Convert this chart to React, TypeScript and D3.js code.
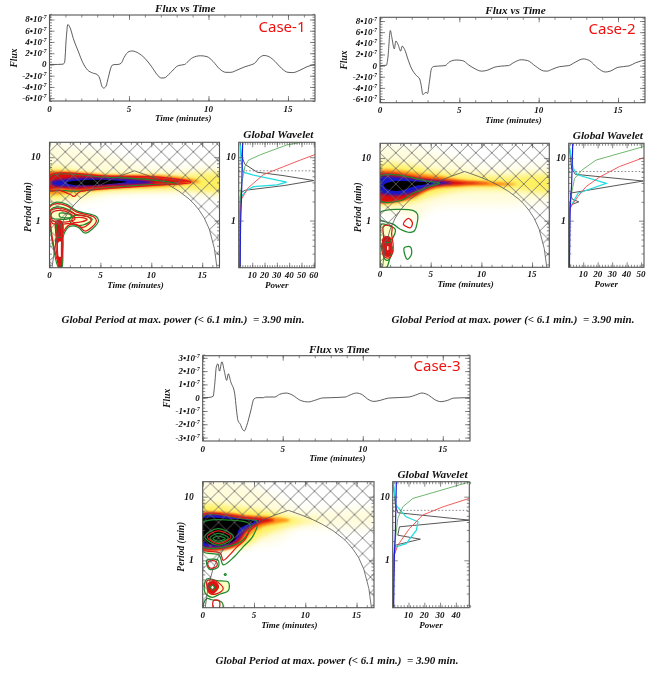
import { useEffect, useRef } from "react";
import * as d3 from "d3";

type Pt = [number, number];
type Sel = d3.Selection<any, any, any, any>;

const TIME_MAX = 16.7;
const PERIOD_DOMAIN: Pt = [0.18, 17.2];
const GLOBAL_PERIOD = 6.1;

// flux light curves, time in minutes, flux in units of 1e-7
const flux1: Pt[] = [[0,0],[.5,0],[.85,.05],[.95,.4],[1.05,4.5],[1.15,7.1],[1.3,6.5],[1.5,4.6],[1.8,2.4],[2.1,.3],[2.4,-1],[2.7,-1.5],[3,-1.8],[3.15,-2.4],[3.3,-3.9],[3.4,-4.2],[3.55,-3.9],[3.7,-2.3],[3.9,-.3],[4,-.05],[4.3,0],[4.5,.2],[4.7,1.3],[5,2.3],[5.2,2.4],[5.6,2],[6,1.1],[6.4,-.3],[6.8,-1.9],[7,-2.4],[7.2,-2.4],[7.6,-1.5],[8.1,-.2],[8.5,0],[8.7,.5],[9,1.2],[9.5,1.55],[9.9,1.4],[10.3,.5],[10.7,-.8],[11.1,-1.4],[11.4,-1.4],[11.8,-1],[12.3,-.4],[12.7,-.05],[12.9,.2],[13.2,1.2],[13.5,1.6],[13.8,1.4],[14.2,.5],[14.6,-.7],[15,-1.4],[15.3,-1.45],[15.7,-1.1],[16.2,-.4],[16.7,0]];
const flux2: Pt[] = [[0,0],[.4,.05],[.5,1.5],[.65,6.3],[.75,5],[.9,3],[1,4.4],[1.15,3.7],[1.3,2.6],[1.4,3.5],[1.55,2.9],[1.8,.8],[2,-.6],[2.3,-1.8],[2.5,-2.4],[2.6,-3.6],[2.7,-5.2],[2.8,-5],[2.9,-4.8],[3,-5],[3.1,-3.2],[3.25,-.5],[3.4,-.15],[3.9,-.05],[4.1,0],[4.4,.7],[4.8,1],[5.2,.9],[5.6,.1],[6,-.6],[6.4,-1],[6.8,-.8],[7.2,-.3],[7.6,-.1],[8.1,0],[8.4,.5],[8.9,1.05],[9.3,.9],[9.8,-.1],[10.3,-.95],[10.5,-1],[10.9,-.6],[11.3,-.2],[11.9,0],[12.3,.6],[12.8,1.2],[13.2,.9],[13.7,-.4],[14.2,-1.15],[14.5,-1],[15,-.3],[15.7,-.05],[16.1,.5],[16.7,1]];
const flux3: Pt[] = [[0,0],[.4,.02],[.65,.1],[.75,1],[.85,2.3],[.95,2.55],[1.05,2],[1.2,2.7],[1.35,2],[1.5,1.3],[1.6,1.8],[1.75,1.2],[2,.3],[2.1,-.8],[2.2,-1.7],[2.35,-2],[2.5,-2.4],[2.6,-2.5],[2.75,-2.1],[3,-1],[3.2,-.1],[3.4,0],[3.8,0],[3.9,.05],[4.5,.05],[4.8,.25],[5.2,.35],[5.6,.2],[6.1,-.2],[6.6,-.32],[7,-.2],[7.5,-.02],[8,0],[8.9,.05],[9.2,.2],[9.6,.35],[10,.2],[10.3,-.1],[10.7,-.28],[11.1,-.2],[11.6,-.03],[12.9,.05],[13.3,.2],[13.7,.35],[14.1,.2],[14.5,-.15],[14.9,-.3],[15.3,-.2],[15.7,-.03],[16.7,0]];

// cone of influence, time / period
const coi: Pt[] = [[.25,.18],[.5,.36],[1,.73],[1.5,1.1],[2,1.46],[2.5,1.83],[3,2.2],[4,2.92],[5,3.65],[6,4.38],[7,5.1],[8.35,6.1],[9.7,5.1],[10.7,4.38],[11.7,3.65],[12.7,2.92],[13.7,2.2],[14.2,1.83],[14.7,1.46],[15.2,1.1],[15.7,.73],[16.2,.36],[16.45,.18]];

const pale1: Pt[] = [[-.5,15.6],[3,13.9],[6,10.9],[9,7.6],[12,6.7],[17.2,6.3],[17.2,2.71],[12,2.87],[7,2.71],[4,2.12],[2,1.88],[-.5,2.12]];
const yellow1: Pt[] = [[-.5,6.4],[4,5.6],[9,5.3],[13,5.2],[17.2,5.2],[17.2,2.95],[13,3.05],[9,3],[5,2.85],[2.5,2.4],[-.5,2.3]];
const orange1: Pt[] = [[-.5,5.4],[6,5.3],[12,5.05],[14.8,4.13],[12,3.5],[7,3.2],[3,2.85],[-.5,2.75]];
const red1: Pt[] = [[-.5,5.1],[6,5.05],[11,4.8],[14,4.1],[11,3.7],[7,3.4],[2.5,3.05],[1,3.2],[-.5,3.05]];
const blue1: Pt[] = [[.1,4],[2,4.6],[5,4.7],[8,4.5],[10.3,4],[8,3.75],[5,3.6],[2,3.4],[.4,3.6]];
const black1: Pt[] = [[1.7,4],[3,4.3],[5.5,4.38],[7.6,4.08],[5.5,3.72],[3,3.6],[2,3.75]];

const pale2: Pt[] = [[-.5,14.2],[5,12.5],[10,7.3],[17.2,6.5],[17.2,2.45],[13.4,1.8],[7.5,1.8],[5,1.6],[3.6,1],[2.3,1.26],[-.5,1.8]];
const yellow2: Pt[] = [[-.5,7.5],[3.3,7.5],[5.5,6.2],[11.5,5.1],[17.2,4.9],[17.2,2.95],[12.8,3.12],[8.2,3.12],[5,2.45],[3,1.93],[-.5,1.93]];
const orange2: Pt[] = [[-.5,5.9],[5,5.4],[8.2,4.5],[12,4.1],[13.4,3.83],[12,3.6],[8.2,3.52],[5,3.12],[3,2.18],[-.5,2.05]];
const red2: Pt[] = [[-.5,5.4],[5,4.77],[8.2,4.23],[10.8,3.98],[8.2,3.75],[5.3,3.4],[3.3,2.45],[2.1,2.1],[-.5,2.1]];
const blue2: Pt[] = [[-.5,4.77],[5,4.33],[7.2,3.98],[5,3.6],[3,2.77],[1.3,2.54],[-.5,3.12]];
const black2: Pt[] = [[.4,3.75],[1.3,4.23],[3.3,4.23],[5.1,3.98],[3.3,3.52],[2.1,3.03],[1.3,3],[.6,3.26]];

const pale3: Pt[] = [[-.5,15.3],[4.6,15.3],[9.3,6.55],[17.2,5.8],[17.2,3.79],[13,3.16],[9.6,3.36],[7.2,1.95],[4.6,1.73],[2.7,1.44],[-.5,1.53]];
const yellow3: Pt[] = [[-.5,7],[3.3,6.8],[5.9,6],[9.5,4.55],[11.8,4.28],[9.5,3.79],[7.2,2.98],[5.6,2.34],[4.3,1.73],[-.5,1.73]];
const orange3: Pt[] = [[-.5,5.2],[4.6,5.1],[8.5,4.28],[5.9,3.36],[4.6,2.48],[3.6,1.73],[-.5,1.56]];
const red3: Pt[] = [[-.5,5],[4.6,4.83],[7,4.28],[5.3,3.57],[4.3,2.8],[3.2,1.66],[-.5,1.6]];
const blue3: Pt[] = [[-.5,4.83],[4,4.55],[5.6,4.13],[4.3,3.16],[3.3,2.07],[2,1.66],[-.5,1.83]];
const black3: Pt[] = [[-.5,4.3],[3,4.45],[5,4.03],[3.6,3.16],[3.1,2.07],[1.9,1.73],[.4,1.83],[-.5,2.5]];

// small-period power blobs under the contour lines
const lobePale1: Pt[] = [[0,1.6],[.7,1.85],[1.7,1.7],[2.7,1.36],[4.4,1.13],[4.6,.97],[3.5,.68],[2.85,.84],[2,.86],[1.3,.62],[1.1,.2],[.95,.2],[.45,.38],[.1,.87]];
const lobeRed1: Pt[] = [[.6,.9],[1.05,1],[1.35,.85],[1.25,.4],[1.2,.18],[.9,.18],[.7,.4]];
const lobeWhite1: Pt[] = [[.9,.46],[1.15,.46],[1.15,.27],[.9,.27]];
const lobePale2: Pt[] = [[.15,.88],[1,.82],[1.5,.73],[1.3,.54],[1,.48],[1.3,.33],[1,.26],[.65,.18],[.15,.18],[0,.48]];
const lobeRed2: Pt[] = [[.35,.55],[1,.55],[1.2,.37],[1,.27],[.5,.27],[.2,.37]];
const lobeWhite2: Pt[] = [[.72,.39],[.88,.39],[.88,.34],[.72,.34]];
const lobePale3: Pt[] = [[.4,.51],[1.4,.48],[2.5,.455],[2.5,.335],[1.7,.296],[.9,.262],[.2,.315]];
const lobeRed3: Pt[] = [[.5,.44],[1.3,.46],[1.6,.38],[1,.3],[.55,.32]];
const lobeWhite3: Pt[] = [[.85,.39],[1.05,.39],[1.05,.36],[.85,.36]];

// contour lines, significance levels
const greenRings1: Pt[][] = [
  [[0,5],[6,4.8],[10,4.4],[12.6,3.8],[10,3.7],[6,3.3],[2.5,2.9],[1,3],[0,3]],
  [[0,1.66],[.7,1.95],[1.7,1.8],[2.7,1.42],[4.6,1.16],[4.8,.97],[3.5,.63],[2.85,.78],[2,.81],[1.4,.6],[1.2,.18],[.9,.18],[.4,.36],[.05,.87]],
  [[1,1.3],[2,1.25],[2.2,1.15],[1.5,1.1],[1,1.15]],
  [[2,1.1],[3,1.22],[4.2,1.05],[3.3,.85],[2.2,.88]],
  [[.7,.85],[1,.9],[1.2,.8],[1.1,.55],[.85,.55]],
  [[.15,1.5],[.9,1.65],[1.8,1.5],[2.5,1.2],[1.7,1.05],[1,1.05],[.2,1.1]],
];
const redRings1: Pt[][] = [
  [[0,5.1],[6,5],[11,4.8],[13.9,4],[11,3.65],[7,3.3],[3,2.85],[2.4,2.4],[2.1,2.55],[1,3],[0,3]],
  [[0,1.6],[.7,1.85],[1.7,1.7],[2.7,1.36],[4.4,1.13],[4.6,.97],[3.5,.68],[2.85,.84],[2,.86],[1.3,.62],[1.1,.2],[.95,.2],[.45,.38],[.1,.87]],
  [[.2,1.3],[1,1.45],[2,1.3],[2.5,1.05],[1.7,.95],[1,.95],[.3,1]],
  [[2.2,1.05],[3,1.12],[3.7,1.05],[3.1,.95],[2.3,.95]],
  [[.6,.95],[1,1],[1.3,.9],[1.2,.5],[1.15,.25],[.9,.25],[.75,.5]],
  [[.7,.55],[1.2,.55],[1.2,.25],[1,.2],[.8,.25]],
  [[.05,1.4],[.9,1.55],[1.9,1.42],[2.6,1.25],[3.9,1.12],[4.1,1],[3.3,.78],[2.3,.9],[1.4,.88],[.9,.9],[.3,.9]],
];
const greenRings2: Pt[][] = [
  [[0,5.1],[5,4.2],[5.9,3.98],[5,3.55],[3.3,2.77],[2.1,2.1],[0,2.1]],
  [[0,1.35],[3.3,1.45],[3.7,1.26],[3.4,.69],[3,.65],[2,.73],[1.3,.88],[0,1.05]],
  [[.15,.88],[1,.82],[1.5,.73],[1.3,.54],[1,.48],[1.3,.33],[1,.26],[.65,.18],[.15,.18],[0,.48]],
  [[.45,.44],[.95,.44],[1.1,.36],[.9,.24],[.5,.24],[.3,.36]],
  [[2.4,.37],[3,.38],[3.1,.29],[2.7,.24],[2.5,.27]],
];
const redRings2: Pt[][] = [
  [[2.3,.88],[2.8,1.09],[3.2,.92],[3,.77],[2.5,.82]],
  [[.35,.82],[1.15,.82],[1.15,.61],[1.3,.37],[1,.26],[.5,.26],[.15,.37],[.35,.54]],
  [[.5,.48],[.9,.48],[1.05,.37],[.9,.28],[.55,.28],[.4,.37]],
  [[.6,.42],[.8,.42],[.9,.36],[.75,.3],[.6,.32]],
];
const greenRings3: Pt[][] = [
  [[.2,2.34],[1.5,3.16],[3,2.34],[1.5,1.73]],
  [[.7,2.25],[1.5,2.64],[2.5,2.25],[1.5,1.9]],
  [[1,2.2],[1.5,2.39],[2.2,2.2],[1.5,2]],
  [[0,3.9],[2.6,4.28],[4.6,3.65],[3.9,2.07],[2.5,1.66],[0,1.65]],
  [[0,4.9],[4,4.5],[5.3,4.1],[4.9,2.4],[3.9,1.6],[3.1,1.15],[2,.85],[1.6,1.2],[0,1.4]],
  [[.4,1],[1.5,1],[1.5,.78],[.7,.72],[.4,.86]],
  [[.4,.51],[1.4,.48],[2.5,.455],[2.5,.335],[1.7,.296],[.9,.262],[.2,.315]],
  [[.75,.375],[.95,.41],[1.15,.375],[.95,.34]],
  [[2.1,.6],[2.2,.62],[2.3,.6],[2.2,.58]],
  [[.9,.24],[1.85,.22],[1.95,.18],[.05,.18],[.4,.25]],
];
const redRings3: Pt[][] = [
  [[.45,2.34],[1.5,2.9],[2.75,2.34],[1.5,1.83]],
  [[0,5],[4,4.6],[5.6,4.2],[4.6,2.9],[4.1,2.1],[3.3,1.6],[2.7,1.25],[2,1],[1.7,1.3],[0,1.5]],
  [[.55,.96],[1.3,.96],[1.4,.82],[.8,.75],[.5,.85]],
  [[.45,.48],[1.2,.48],[2,.36],[1.4,.3],[.7,.3],[.4,.4]],
  [[.5,.38],[.95,.47],[1.5,.38],[.95,.3]],
  [[.65,.375],[.95,.44],[1.3,.375],[.95,.32]],
  [[1.05,.232],[1.6,.232],[1.6,.18],[1.05,.18]],
];

// global wavelet curves, period / power
const globalBlack1: Pt[] = [[.18,.1],[2.39,.3],[2.77,1],[3,4],[3.57,36],[4.28,60],[5.13,35],[5.8,14],[7.75,4],[11,1],[17,.3]];
const globalCyan1: Pt[] = [[.18,.1],[1.77,.3],[2.4,1.4],[2.95,5],[3.43,11],[3.65,30],[4.05,38],[5.2,11],[5.8,2.7],[9,.8],[17,.2]];
const globalGreen1: Pt[] = [[.18,0],[1.77,.1],[2.9,.6],[4.6,2.2],[7.1,4],[9,7],[10.9,16.4],[15.6,38],[17.2,50]];
const globalRed1: Pt[] = [[.18,0],[1.39,.1],[2.2,1.4],[3.3,6.8],[5.3,19],[7.1,35.5],[9,49],[11,61]];
const globalBlue1: Pt[] = [[.18,.1],[.85,.5],[2.9,1.4],[17,2.2]];

const globalBlack2: Pt[] = [[.18,.2],[.85,.5],[1.5,.5],[1.8,1.8],[2,7],[2.2,2.5],[2.75,1],[4.3,51.5],[5.5,4.5],[6.9,2],[16,.3]];
const globalCyan2: Pt[] = [[.18,.1],[1.4,.3],[1.8,2],[2.75,6.5],[3.95,26],[5.4,6],[6.9,3],[17,.2]];
const globalGreen2: Pt[] = [[.18,0],[1.8,.5],[4.7,4],[6.4,9],[9.3,19],[15.3,52]];
const globalRed2: Pt[] = [[.55,0],[1.6,1],[2.45,6.5],[3.5,12],[5,21.5],[7.3,35],[10.2,52]];
const globalBlue2: Pt[] = [[.18,.5],[1.6,1],[3.75,2],[17,2.8]];

const globalBlack3: Pt[] = [[.18,.1],[1.06,.4],[1.73,1.7],[2.15,17.5],[2.48,3.2],[3.36,4.3],[4.28,48.5],[5.6,3.2],[7.4,1.7],[16,.4]];
const globalCyan3: Pt[] = [[.18,.1],[1.13,.6],[1.62,2],[1.83,8.5],[2.98,15],[4.03,16],[4.83,8.5],[7.4,2],[17,.4]];
const globalGreen3: Pt[] = [[.18,0],[1.53,1],[4.55,3.2],[6.95,6.4],[9.4,12.8],[17,48.5]];
const globalRed3: Pt[] = [[.2,0],[1.2,1],[1.72,3.2],[3.15,10.6],[5.14,19],[6.95,32],[9.4,48.5]];
const globalBlue3: Pt[] = [[.18,.6],[1.06,1],[2.88,1.7],[17,2.3]];

const fluxTicks1 = [-6, -4, -2, 0, 2, 4, 6, 8];
const fluxTicks3 = [-3, -2, -1, 0, 1, 2, 3];
const timeTicks = [0, 5, 10, 15];
const powerTicks1 = [10, 20, 30, 40, 50, 60];
const powerTicks2 = [10, 20, 30, 40, 50];
const powerTicks3 = [10, 20, 30, 40];
const caseNames = ["Case-1", "Case-2", "Case-3"];

const FRAME = "#555";
const SERIF = "'Liberation Serif', serif";
const heatColors = ["#fffcdc", "#fff05e", "#ff9418", "#dc1010", "#1616c8", "#000000"];
const heatBlur = [5, 3, 1.2, 0.8, 0.8, 0.6];

const cases = [
  {
    name: caseNames[0], flux: flux1, fluxDomain: [-6.5, 8.8], fluxTicks: fluxTicks1, fluxMinor: 0.5,
    fluxBox: { x0: 49.5, x1: 315, y0: 15, y1: 101 },
    waveBox: { x0: 49.5, x1: 219.5, y0: 142.3, y1: 267.7 },
    globalBox: { x0: 238.7, x1: 315, y0: 142.3, y1: 267.7 },
    layers: [pale1, yellow1, orange1, red1, blue1, black1],
    lobes: [lobePale1, lobeRed1, lobeWhite1],
    green: greenRings1, red: redRings1,
    curves: [globalBlack1, globalCyan1, globalGreen1, globalRed1, globalBlue1],
    powerDomain: [-1, 61], powerTicks: powerTicks1,
    labelX: 282, labelY: 32, footX: 183, footY: 323,
  },
  {
    name: caseNames[1], flux: flux2, fluxDomain: [-6.66, 8.67], fluxTicks: fluxTicks1, fluxMinor: 0.5,
    fluxBox: { x0: 380, x1: 645, y0: 17.3, y1: 102.7 },
    waveBox: { x0: 380, x1: 549.3, y0: 143.3, y1: 267.3 },
    globalBox: { x0: 568.7, x1: 644, y0: 143.3, y1: 267.3 },
    layers: [pale2, yellow2, orange2, red2, blue2, black2],
    lobes: [lobePale2, lobeRed2, lobeWhite2],
    green: greenRings2, red: redRings2,
    curves: [globalBlack2, globalCyan2, globalGreen2, globalRed2, globalBlue2],
    powerDomain: [0, 52], powerTicks: powerTicks2,
    labelX: 612, labelY: 34, footX: 513, footY: 323,
  },
  {
    name: caseNames[2], flux: flux3, fluxDomain: [-3.26, 3.16], fluxTicks: fluxTicks3, fluxMinor: 0.25,
    fluxBox: { x0: 202.7, x1: 470, y0: 355.7, y1: 441 },
    waveBox: { x0: 202.7, x1: 374, y0: 481.7, y1: 607.7 },
    globalBox: { x0: 392.7, x1: 469.3, y0: 481.7, y1: 607.7 },
    layers: [pale3, yellow3, orange3, red3, blue3, black3],
    lobes: [lobePale3, lobeRed3, lobeWhite3],
    green: greenRings3, red: redRings3,
    curves: [globalBlack3, globalCyan3, globalGreen3, globalRed3, globalBlue3],
    powerDomain: [0, 48.5], powerTicks: powerTicks3,
    labelX: 437, labelY: 371, footX: 337, footY: 664,
  },
];

const curveColors = ["#444", "#22dde0", "#5fae5f", "#f04a4a", "#1a1ae0"];
const lobeColors = ["#ffffc4", "#d81010", "#ffffff"];

function label(g: Sel, x: number, y: number, text: string, size: number, anchor = "middle") {
  return g
    .append("text")
    .attr("x", x)
    .attr("y", y)
    .attr("text-anchor", anchor)
    .attr("font-family", SERIF)
    .attr("font-weight", "bold")
    .attr("font-style", "italic")
    .attr("font-size", size)
    .attr("fill", "#111")
    .style("white-space", "pre")
    .text(text);
}

// frame with inward ticks on all four sides, labels on bottom and left
function frame(
  g: Sel,
  box: { x0: number; x1: number; y0: number; y1: number },
  xScale: any,
  yScale: any,
  xMajor: number[],
  xMinor: number[],
  yMajor: number[],
  yMinor: number[]
) {
  const axes = g.append("g");
  const tick = (gen: any, major: number[], minor: number[], at: string, sign: number) => {
    axes.append("g").attr("transform", at).call(gen.tickValues(major).tickSize(sign * 5).tickFormat(() => ""));
    axes.append("g").attr("transform", at).call(gen.tickValues(minor).tickSize(sign * 2.5).tickFormat(() => ""));
  };
  tick(d3.axisBottom(xScale), xMajor, xMinor, `translate(0,${box.y1})`, -1);
  tick(d3.axisTop(xScale), xMajor, xMinor, `translate(0,${box.y0})`, -1);
  tick(d3.axisLeft(yScale), yMajor, yMinor, `translate(${box.x0},0)`, -1);
  tick(d3.axisRight(yScale), yMajor, yMinor, `translate(${box.x1},0)`, -1);
  axes.selectAll(".domain").remove();
  axes.selectAll("line").attr("stroke", FRAME).attr("stroke-width", 0.7);
  g.append("rect")
    .attr("x", box.x0)
    .attr("y", box.y0)
    .attr("width", box.x1 - box.x0)
    .attr("height", box.y1 - box.y0)
    .attr("fill", "none")
    .attr("stroke", FRAME)
    .attr("stroke-width", 1.1);
}

const range = (a: number, b: number, step: number) => d3.range(a, b + step / 2, step);
const periodMajor = [1, 10];
const periodMinor = [0.2, 0.3, 0.4, 0.5, 0.6, 0.7, 0.8, 0.9, 2, 3, 4, 5, 6, 7, 8, 9];

function drawFlux(g: Sel, c: (typeof cases)[number]) {
  const box = c.fluxBox;
  const x = d3.scaleLinear().domain([0, TIME_MAX]).range([box.x0, box.x1]);
  const y = d3.scaleLinear().domain(c.fluxDomain).range([box.y1, box.y0]);
  const line = d3.line<Pt>().x((d) => x(d[0])).y((d) => y(d[1])).curve(d3.curveMonotoneX);

  g.append("path").datum(c.flux).attr("d", line).attr("fill", "none").attr("stroke", "#333").attr("stroke-width", 0.8);
  frame(g, box, x, y, timeTicks, range(0, 16, 1), c.fluxTicks, range(c.fluxDomain[0] < -6 ? -6.5 : -3, c.fluxDomain[1], c.fluxMinor));

  timeTicks.forEach((t) => label(g, x(t), box.y1 + 10.5, String(t), 9));
  c.fluxTicks.forEach((v) => {
    const t = label(g, box.x0 - 3, y(v) + 3, "", 9, "end");
    if (v === 0) {
      t.text("0");
    } else {
      t.append("tspan").text(`${v}•10`);
      t.append("tspan").attr("dy", -3).attr("font-size", 5.5).text("-7");
    }
  });

  label(g, (box.x0 + box.x1) / 2 + 3, box.y0 - 3, "Flux vs Time", 11.2);
  label(g, (box.x0 + box.x1) / 2 + 1, box.y1 + 20, "Time (minutes)", 9);
  label(g, 0, 0, "Flux", 9.5).attr("transform", `translate(${box.x0 - 33},${(box.y0 + box.y1) / 2}) rotate(-90)`);

  g.append("text")
    .attr("x", c.labelX)
    .attr("y", c.labelY)
    .attr("text-anchor", "middle")
    .attr("font-family", "'Noto Sans', sans-serif")
    .attr("font-size", 15)
    .attr("fill", "#f01010")
    .text(c.name);
}

function drawWavelet(g: Sel, c: (typeof cases)[number], i: number) {
  const box = c.waveBox;
  const x = d3.scaleLinear().domain([0, TIME_MAX]).range([box.x0, box.x1]);
  const y = d3.scaleLog().domain(PERIOD_DOMAIN).range([box.y1, box.y0]);
  const clipId = `wave-clip-${i}`;
  const defs = g.append("defs");
  defs.append("clipPath").attr("id", clipId).append("rect")
    .attr("x", box.x0).attr("y", box.y0).attr("width", box.x1 - box.x0).attr("height", box.y1 - box.y0);

  const closed = d3.line<Pt>().x((d) => x(d[0])).y((d) => y(d[1])).curve(d3.curveCatmullRomClosed.alpha(0.5));
  const plot = g.append("g").attr("clip-path", `url(#${clipId})`);
  plot.append("rect").attr("x", box.x0).attr("y", box.y0).attr("width", box.x1 - box.x0).attr("height", box.y1 - box.y0).attr("fill", "#fff");

  c.layers.forEach((layer, k) => {
    const id = `heat-blur-${i}-${k}`;
    defs.append("filter").attr("id", id).attr("x", "-20%").attr("y", "-50%").attr("width", "140%").attr("height", "200%")
      .append("feGaussianBlur").attr("stdDeviation", heatBlur[k]);
    plot.append("path").datum(layer).attr("d", closed).attr("fill", heatColors[k]).attr("filter", `url(#${id})`);
  });

  c.lobes.forEach((lobe, k) => {
    plot.append("path").datum(lobe).attr("d", closed).attr("fill", lobeColors[k]);
  });

  const rings = (list: Pt[][], color: string) =>
    list.forEach((r) => {
      plot.append("path").datum(r).attr("d", closed).attr("fill", "none").attr("stroke", color).attr("stroke-width", 1.25);
    });
  rings(c.green, "#1c8a2c");
  rings(c.red, "#e01818");

  // hatch outside the cone of influence
  const hatchId = `hatch-${i}`;
  const hatch = defs.append("pattern").attr("id", hatchId).attr("patternUnits", "userSpaceOnUse")
    .attr("width", 16).attr("height", 15.6).attr("patternTransform", `translate(${box.x0 + 7.8},${box.y0 + 1.7})`);
  hatch.append("path").attr("d", "M0,0L16,15.6M16,0L0,15.6").attr("stroke", "#666").attr("stroke-width", 0.8);
  const outside: Pt[] = [[0, PERIOD_DOMAIN[0]], ...coi, [TIME_MAX, PERIOD_DOMAIN[0]], [TIME_MAX, PERIOD_DOMAIN[1]], [0, PERIOD_DOMAIN[1]]];
  const straight = d3.line<Pt>().x((d) => x(d[0])).y((d) => y(d[1]));
  plot.append("path").attr("d", straight(outside) + "Z").attr("fill", `url(#${hatchId})`);
  plot.append("path").attr("d", straight(coi)).attr("fill", "none").attr("stroke", "#555").attr("stroke-width", 0.8);

  frame(g, box, x, y, timeTicks, range(0, 16, 1), periodMajor, periodMinor);
  timeTicks.forEach((t) => label(g, x(t), box.y1 + 10, String(t), 9));
  periodMajor.forEach((p) => label(g, box.x0 - 9, y(p) + 3, String(p), 9.5, "end"));
  label(g, (box.x0 + box.x1) / 2 + 1, box.y1 + 20, "Time (minutes)", 9);
  label(g, 0, 0, "Period (min)", 9.5).attr("transform", `translate(${box.x0 - 19},${(box.y0 + box.y1) / 2 + 2}) rotate(-90)`);
  label(g, c.footX, c.footY, "Global Period at max. power (< 6.1 min.)  = 3.90 min.", 11);
}

function drawGlobal(g: Sel, c: (typeof cases)[number], i: number) {
  const box = c.globalBox;
  const x = d3.scaleLinear().domain(c.powerDomain).range([box.x0, box.x1]);
  const y = d3.scaleLog().domain(PERIOD_DOMAIN).range([box.y1, box.y0]);
  const clipId = `global-clip-${i}`;
  g.append("defs").append("clipPath").attr("id", clipId).append("rect")
    .attr("x", box.x0).attr("y", box.y0).attr("width", box.x1 - box.x0).attr("height", box.y1 - box.y0);
  const plot = g.append("g").attr("clip-path", `url(#${clipId})`);
  const line = d3.line<Pt>().x((d) => x(d[1])).y((d) => y(d[0]));

  c.curves.forEach((curve, k) => {
    plot.append("path").datum(curve).attr("d", line).attr("fill", "none")
      .attr("stroke", curveColors[k]).attr("stroke-width", k === 1 || k === 4 ? 1.2 : 0.9);
  });
  plot.append("line").attr("x1", box.x0).attr("x2", box.x1).attr("y1", y(GLOBAL_PERIOD)).attr("y2", y(GLOBAL_PERIOD))
    .attr("stroke", "#555").attr("stroke-width", 0.7).attr("stroke-dasharray", "1.5 2");

  frame(g, box, x, y, c.powerTicks, range(Math.ceil(c.powerDomain[0]) + 1, c.powerDomain[1], 2), periodMajor, periodMinor);
  c.powerTicks.forEach((t) => label(g, x(t), box.y1 + 10, String(t), 9));
  periodMajor.forEach((p) => label(g, box.x0 - 3, y(p) + 3, String(p), 9.5, "end"));
  label(g, (box.x0 + box.x1) / 2, box.y1 + 20, "Power", 9);
  label(g, (box.x0 + box.x1) / 2 + 1.5, box.y0 - 4, "Global Wavelet", 11.3);
}

export default function App() {
  const svgRef = useRef<SVGSVGElement>(null);

  useEffect(() => {
    if (!svgRef.current) return;
    const svg = d3.select(svgRef.current);
    svg.selectAll("*").remove();
    cases.forEach((c, i) => {
      const g = svg.append("g");
      drawWavelet(g, c, i);
      drawFlux(g, c);
      drawGlobal(g, c, i);
    });
  }, []);

  return (
    <svg
      ref={svgRef}
      width={664}
      height={673}
      style={{ position: "absolute", left: 0, top: 0, background: "#fff", filter: "blur(0.4px)" }}
    />
  );
}
